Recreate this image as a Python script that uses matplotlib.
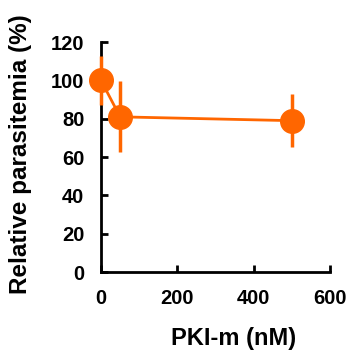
import matplotlib; matplotlib.use("Agg")
import matplotlib.pyplot as plt
plt.rcParams.update({"font.family": "Liberation Sans", "font.weight": "bold"})

# data
conc = [0, 50, 500]            # PKI-m (nM)
parasitemia = [100, 81, 79]    # relative parasitemia (%)
err = [13, 18.5, 14]
xticks = [0, 200, 400, 600]
yticks = [0, 20, 40, 60, 80, 100, 120]
orange = "#FF6600"

fig = plt.figure(figsize=(3.46, 3.51), dpi=100)
ax = fig.add_axes([0.292, 0.225, 0.662, 0.655])
ax.errorbar(conc, parasitemia, yerr=err, color=orange, lw=2, marker="o", ms=17,
            elinewidth=2.5, capsize=0, clip_on=False, zorder=3)
ax.set_xlim(0, 600); ax.set_ylim(0, 120)
ax.set_xticks(xticks); ax.set_yticks(yticks)
for s in ["top", "right"]:
    ax.spines[s].set_visible(False)
for s in ["left", "bottom"]:
    ax.spines[s].set_linewidth(2)
ax.tick_params(direction="in", width=2, length=5, labelsize=14.5, pad=12)
for lab in ax.get_xticklabels() + ax.get_yticklabels():
    lab.set_fontweight("bold")
ax.set_xlabel("PKI-m (nM)", fontsize=17, fontweight="bold")
ax.xaxis.set_label_coords(0.58, -0.24)
ax.set_ylabel("Relative parasitemia (%)", fontsize=17.5, fontweight="bold")
ax.yaxis.set_label_coords(-0.30, 0.513)
fig.savefig("out.png", dpi=100)
